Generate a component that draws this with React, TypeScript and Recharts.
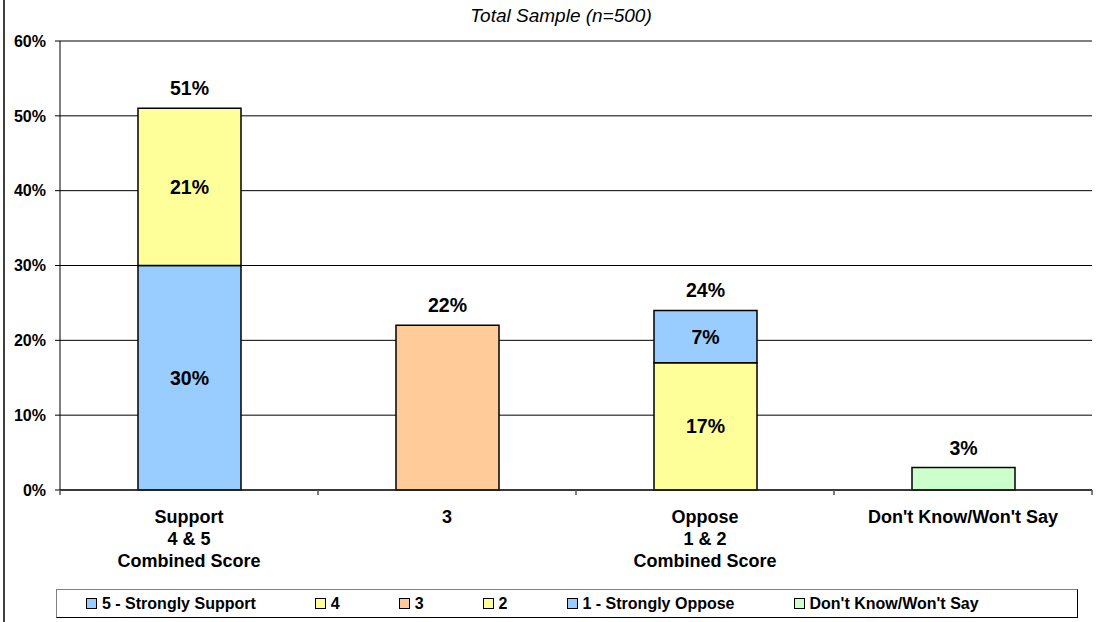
import React from "react";
import {
  BarChart,
  Bar,
  XAxis,
  YAxis,
  CartesianGrid,
  LabelList,
  Legend,
  ReferenceLine,
} from "recharts";

const categories = [
  "Support\n4 & 5\nCombined Score",
  "3",
  "Oppose\n1 & 2\nCombined Score",
  "Don't Know/Won't Say",
];
const strongSupport = [30, null, null, null];
const support4 = [21, null, null, null];
const neutral3 = [null, 22, null, null];
const oppose2 = [null, null, 17, null];
const strongOppose = [null, null, 7, null];
const dontKnow = [null, null, null, 3];
const totals = [51, 22, 24, 3];
const yTicks = [0, 10, 20, 30, 40, 50, 60];

const series = [
  { key: "s5", name: "5 - Strongly Support", values: strongSupport, color: "#99CCFF", inner: true },
  { key: "s4", name: "4", values: support4, color: "#FFFF99", inner: true },
  { key: "s3", name: "3", values: neutral3, color: "#FFCC99", inner: false },
  { key: "s2", name: "2", values: oppose2, color: "#FFFF99", inner: true },
  { key: "s1", name: "1 - Strongly Oppose", values: strongOppose, color: "#99CCFF", inner: true },
  { key: "dk", name: "Don't Know/Won't Say", values: dontKnow, color: "#CCFFCC", inner: false },
];

const data = categories.map((c, i) => {
  const row: any = { category: c, idx: i, total: totals[i] };
  series.forEach((s) => {
    row[s.key] = s.values[i];
  });
  return row;
});

// top-most series (with a value) of each stacked column
const topKeys = categories.map((_, i) => {
  let k = "";
  series.forEach((s) => {
    if (s.values[i] !== null && s.values[i] !== undefined) k = s.key;
  });
  return k;
});

const FONT = "'Liberation Sans', Arial, sans-serif";

const CategoryTick = (props: any) => {
  const { x, y, payload, index, visibleTicksCount } = props;
  const lines = String(payload.value).split("\n");
  const half = payload && typeof payload.offset === "number" ? payload.offset : 0;
  const isLast = visibleTicksCount ? index === visibleTicksCount - 1 : index === categories.length - 1;
  return (
    <g>
      {half > 0 && (
        <line x1={x - half} x2={x - half} y1={y} y2={y + 5} stroke="#555" strokeWidth={1.5} />
      )}
      {half > 0 && isLast && (
        <line x1={x + half} x2={x + half} y1={y} y2={y + 5} stroke="#555" strokeWidth={1.5} />
      )}
      {lines.map((l, i) => (
        <text
          key={i}
          x={x}
          y={y + 33 + i * 22}
          textAnchor="middle"
          fontFamily={FONT}
          fontWeight="bold"
          fontSize={18}
          fill="#000"
        >
          {l}
        </text>
      ))}
    </g>
  );
};

const makeLabel = (s: any) => (props: any) => {
  const { x, y, width, height, value } = props;
  const ci = parseInt(String(value).slice(1), 10);
  if (isNaN(ci)) return null;
  const v = s.values[ci];
  if (v === null || v === undefined) return null;
  const parts: any[] = [];
  if (s.inner && height) {
    parts.push(
      <text
        key="in"
        x={x + width / 2}
        y={y + height / 2 + 7}
        textAnchor="middle"
        fontFamily={FONT}
        fontWeight="bold"
        fontSize={19.5}
        fill="#000"
      >
        {v}%
      </text>
    );
  }
  if (topKeys[ci] === s.key) {
    parts.push(
      <text
        key="tot"
        x={x + width / 2}
        y={y - 13}
        textAnchor="middle"
        fontFamily={FONT}
        fontWeight="bold"
        fontSize={19.5}
        fill="#000"
      >
        {totals[ci]}%
      </text>
    );
  }
  return <g>{parts}</g>;
};

const LegendContent = () => (
  <div
    style={{
      boxSizing: "border-box",
      width: 1022,
      height: 29,
      border: "1px solid #000",
      borderTopColor: "#808080",
      borderLeftColor: "#808080",
      background: "#fff",
      display: "flex",
      alignItems: "center",
      paddingLeft: 29,
      fontFamily: FONT,
      fontWeight: "bold",
      fontSize: 16,
      color: "#000",
    }}
  >
    {series.map((s) => (
      <div key={s.key} style={{ display: "flex", alignItems: "center", marginRight: 59 }}>
        <span
          style={{
            display: "inline-block",
            boxSizing: "border-box",
            width: 11,
            height: 11,
            background: s.color,
            border: "1.5px solid #000",
            marginRight: 5,
          }}
        />
        <span style={{ whiteSpace: "nowrap" }}>{s.name}</span>
      </div>
    ))}
  </div>
);

export default function App() {
  return (
    <div
      style={{
        position: "absolute",
        left: 0,
        top: 0,
        width: 1102,
        height: 622,
        background: "#fff",
        overflow: "hidden",
      }}
    >
      <div
        style={{
          position: "absolute",
          left: 3,
          top: 0,
          width: 2,
          height: 622,
          background: "#404040",
        }}
      />
      <div
        style={{
          position: "absolute",
          left: 0,
          width: 1122,
          top: 5,
          textAlign: "center",
          fontFamily: FONT,
          fontStyle: "italic",
          fontSize: 19,
          color: "#000",
          lineHeight: "22px",
        }}
      >
        Total Sample (n=500)
      </div>
      <BarChart
        width={1102}
        height={622}
        data={data}
        margin={{ top: 41, right: 10, left: 10, bottom: 4 }}
        style={{ position: "absolute", left: 0, top: 0 }}
      >
        <CartesianGrid vertical={false} stroke="#000" strokeWidth={1} />
        <XAxis
          dataKey="category"
          height={99}
          tickSize={0}
          tickMargin={0}
          interval={0}
          axisLine={{ stroke: "#222", strokeWidth: 1.5 }}
          tickLine={false}
          tick={<CategoryTick />}
        />
        <YAxis
          width={50}
          domain={[0, 60]}
          ticks={yTicks}
          interval={0}
          tickSize={5}
          tickMargin={9}
          axisLine={{ stroke: "#000", strokeWidth: 1 }}
          tickLine={{ stroke: "#000" }}
          tickFormatter={(v: number) => `${v}%`}
          tick={{ fontFamily: FONT, fontWeight: "bold", fontSize: 16, fill: "#000" }}
        />
        <YAxis
          yAxisId="right"
          orientation="right"
          width={0}
          domain={[0, 60]}
          tick={false}
          tickLine={false}
          axisLine={{ stroke: "#000", strokeWidth: 1.5 }}
        />
        <ReferenceLine y={60} stroke="#808080" strokeWidth={1.5} />
        {series.map((s) => (
          <Bar
            key={s.key}
            dataKey={s.key}
            name={s.name}
            stackId="a"
            fill={s.color}
            stroke="#000"
            strokeWidth={1.5}
            barSize={103}
            isAnimationActive={false}
          >
            <LabelList dataKey={(d: any) => "c" + d.idx} content={makeLabel(s)} />
          </Bar>
        ))}
        <Legend
          verticalAlign="bottom"
          content={<LegendContent />}
          wrapperStyle={{ left: 56, width: 1022, height: 29 }}
        />
      </BarChart>
    </div>
  );
}
